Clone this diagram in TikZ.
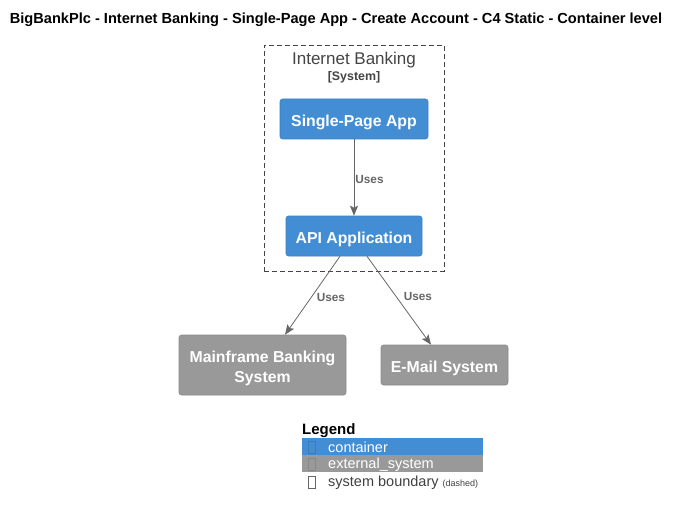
\documentclass[tikz,border=0pt]{standalone}
\usepackage{fontspec}
\setmainfont{Liberation Sans}
\usetikzlibrary{arrows.meta}
\definecolor{c4blue}{HTML}{438DD5}
\definecolor{c4blueb}{HTML}{3C7FC0}
\definecolor{c4gray}{HTML}{999999}
\definecolor{c4grayb}{HTML}{8A8A8A}
\definecolor{relc}{HTML}{666666}
\definecolor{bndc}{HTML}{444444}
\begin{document}
\begin{tikzpicture}[x=1pt,y=-1pt,
  box/.style={draw, rounded corners=2.5pt, text=white, font=\fontsize{15.8}{20}\selectfont\bfseries, inner sep=0pt, align=center, line width=0.6pt, text depth=0pt, text height=14.5pt},
  cont/.style={box, fill=c4blue, draw=c4blueb},
  ext/.style={box, fill=c4gray, draw=c4grayb},
  relline/.style={draw=relc, line width=0.8pt, -{Stealth[length=10pt,width=8pt,inset=2pt]}},
  rellabel/.style={font=\fontsize{11.8}{14}\selectfont\bfseries, text=relc, anchor=west, inner sep=0pt},
  legrow/.style={minimum width=181pt, minimum height=17pt, inner sep=0pt},
  legtext/.style={anchor=west, inner sep=0pt, font=\fontsize{14.5}{16}\selectfont},
  glyph/.style={draw, minimum width=7pt, minimum height=12pt, inner sep=0pt, line width=0.4pt},
]
\useasboundingbox (0,0) rectangle (680,516);
\node[font=\fontsize{14.6}{17}\selectfont\bfseries] (title) at (336,19.5) {BigBankPlc - Internet Banking - Single-Page App - Create Account - C4 Static - Container level};

\node[draw=bndc, dash pattern=on 5pt off 3pt, line width=0.7pt, minimum width=180pt, minimum height=226pt, inner sep=0pt] (boundary) at (354,158) {};
\node[text=bndc, font=\fontsize{17}{20}\selectfont] (btitle) at (354,60.5) {Internet Banking};
\node[text=bndc, font=\fontsize{12.4}{14}\selectfont\bfseries] (bstereo) at (354,77.5) {[System]};

\node[cont, minimum width=148pt, minimum height=40pt] (spa) at (354,119) {Single-Page App};
\node[cont, minimum width=136pt, minimum height=40pt] (api) at (354,236) {API Application};
\node[ext, minimum width=167pt, minimum height=60pt, text height=34.5pt] (mf) at (262.5,365) {Mainframe Banking\\System};
\node[ext, minimum width=127pt, minimum height=40pt, text height=15pt] (em) at (444.5,365) {E-Mail System};

\draw[relline] (spa.south) -- node[rellabel, pos=0.52, xshift=1pt] (l1) {Uses} (api.north);
\draw[relline] ([xshift=-14pt]api.south) -- node[rellabel, pos=0.52, xshift=5pt] (l2) {Uses} ([xshift=22.5pt]mf.north);
\draw[relline] ([xshift=13pt]api.south) -- node[rellabel, pos=0.46, xshift=7pt] (l3) {Uses} ([xshift=-13.5pt]em.north);

\node[anchor=west, inner sep=0pt, font=\fontsize{15}{17}\selectfont\bfseries] (legend) at (302,430.5) {Legend};
\node[legrow, fill=c4blue, anchor=north west] (row1) at (302,437.5) {};
\node[legrow, fill=c4gray, anchor=north west] (row2) at (302,455) {};
\node[legrow, anchor=north west] (row3) at (302,473) {};
\node[glyph, draw=c4blue!88!black] (g1) at (311.5,447) {};
\node[glyph, draw=c4gray!88!black] (g2) at (311.5,464.5) {};
\node[glyph, draw=black!60] (g3) at (311.5,482.5) {};
\node[legtext, text=white] (t1) at (328,447.5) {container};
\node[legtext, text=white] (t2) at (328,465) {external\_system};
\node[legtext, text=black!75] (t3) at (328,483) {system boundary \fontsize{9}{10}\selectfont(dashed)};
\end{tikzpicture}
\end{document}
